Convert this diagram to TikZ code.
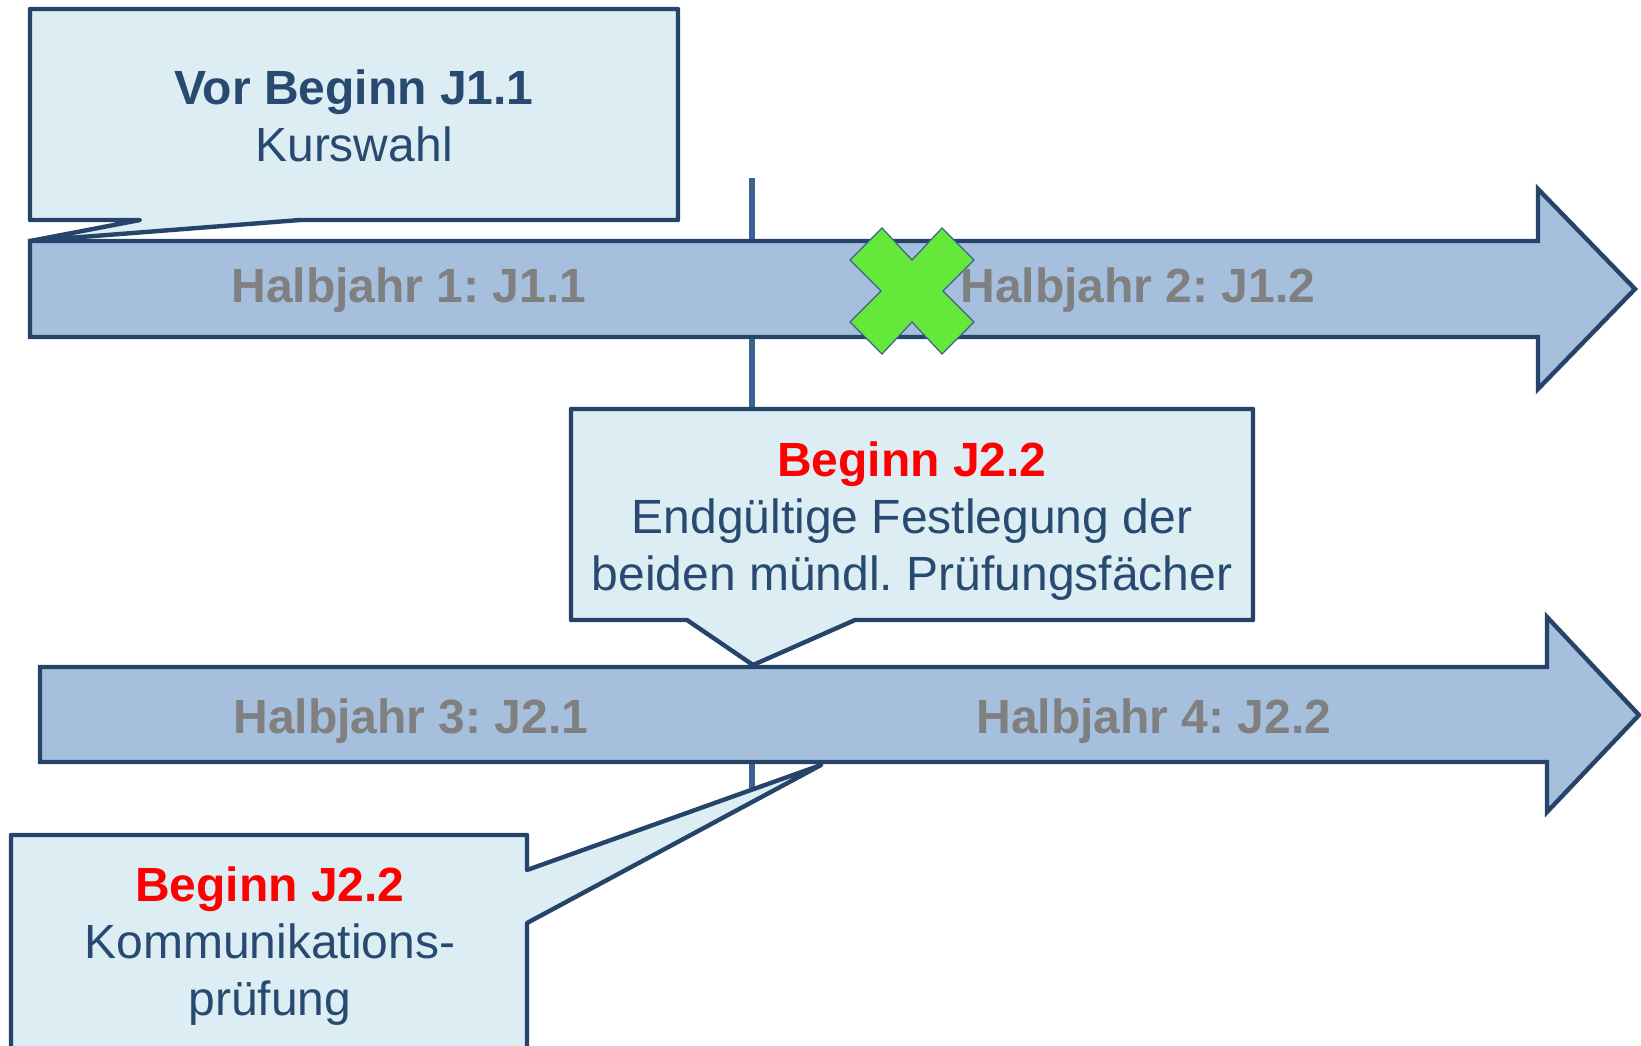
\documentclass[tikz,border=0pt]{standalone}
\usepackage{fontspec}
\setmainfont{Liberation Sans}
\usepackage{tikz}
\frenchspacing
\definecolor{boxfill}{HTML}{DCEEF4}
\definecolor{randblau}{HTML}{264469}
\definecolor{textblau}{HTML}{294A70}
\definecolor{pfeilfill}{HTML}{A5BFDD}
\definecolor{linieblau}{HTML}{3C6291}
\definecolor{kreuzgruen}{HTML}{64E83A}
\tikzstyle{pfeil}=[draw=randblau, fill=pfeilfill, line width=2.2pt, line join=miter]
\tikzstyle{callout}=[draw=randblau, fill=boxfill, line width=2.2pt, line join=round]
\tikzstyle{kreuz}=[draw=linieblau, fill=kreuzgruen, line width=0.6pt]
\tikzstyle{halbjahr}=[anchor=base, text=gray, font=\fontsize{24}{28.5}\selectfont\bfseries]
\tikzstyle{boxtext}=[anchor=base, align=center, text=textblau, font=\fontsize{24}{28.5}\selectfont]
\newcommand{\halbjahr}{\node[halbjahr]}

\begin{document}
\begin{tikzpicture}[x=0.5pt, y=-0.5pt]
	\useasboundingbox (0,0) rectangle (1641,1045);
	\clip (0,0) rectangle (1641,1045);
	%% the time line behind everything
	\coordinate (oben) at (752,178);
	\coordinate (unten) at (752,795);
	\draw[linieblau, line width=2.6pt] (oben) -- (unten);
	%% the two arrows
	\coordinate (p1) at (30,241);
	\coordinate (p2) at (753,665);
	\coordinate (p3) at (821,765);
	\draw[pfeil] (p1) -- (1538,241) -- (1538,189) -- (1635,289)
		-- (1538,389) -- (1538,337) -- (30,337) -- cycle;
	\draw[pfeil] (40,667) -- (1547,667) -- (1547,617) -- (1639,715)
		-- (1547,812) -- (1547,762) -- (40,762) -- cycle;
	%% the green cross
	\draw[kreuz, shift={(912,291)}] (-30,-63) -- (0,-31) -- (30,-63) -- (62,-31)
		-- (31,0) -- (62,31) -- (30,63) -- (0,31) -- (-30,63) -- (-62,31)
		-- (-31,0) -- (-62,-31) -- cycle;
	%% the callouts
	\draw[callout] (30,9) -- (678,9) -- (678,220) -- (300,220) -- (p1)
		-- (140,220) -- (30,220) -- cycle;
	\draw[callout] (571,409) -- (1253,409) -- (1253,620) -- (855,620) -- (p2)
		-- (687,620) -- (571,620) -- cycle;
	\draw[callout] (11,835) -- (527,835) -- (527,870) -- (p3)
		-- (527,923) -- (527,1060) -- (11,1060) -- cycle;
	%% the texts (base = last line)
	\halbjahr (hj1) at (409,302) {Halbjahr 1: J1.1};
	\halbjahr (hj2) at (1138,302) {Halbjahr 2: J1.2};
	\halbjahr (hj3) at (411,733) {Halbjahr 3: J2.1};
	\halbjahr (hj4) at (1154,733) {Halbjahr 4: J2.2};
	\node[boxtext] (vor) at (354,161.5) {\textbf{Vor Beginn J1.1}\\Kurswahl};
	\node[boxtext] (fest) at (912,590)
		{\textcolor{red}{\textbf{Beginn J2.2}}\\Endgültige Festlegung der\\beiden mündl. Prüfungsfächer};
	\node[boxtext] (komm) at (270,1015)
		{\textcolor{red}{\textbf{Beginn J2.2}}\\Kommunikations-\\prüfung};
\end{tikzpicture}
\end{document}
